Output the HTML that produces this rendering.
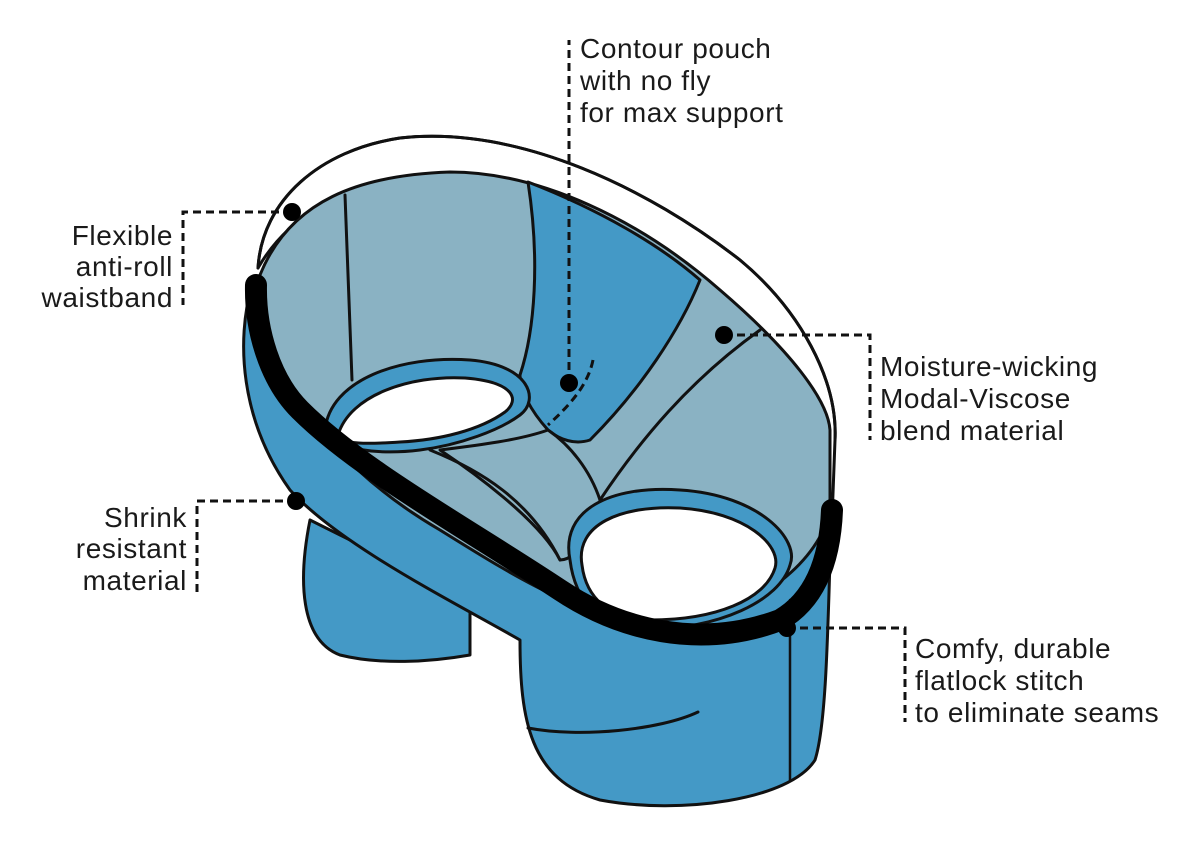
<!DOCTYPE html>
<html><head><meta charset="utf-8"><style>
html,body{margin:0;padding:0;background:#fff;}
svg{display:block;}
text{font-family:"Liberation Sans",sans-serif;font-size:28px;letter-spacing:0.6px;fill:#1a1a1a;}
</style></head><body>
<svg width="1200" height="848" viewBox="0 0 1200 848" xmlns="http://www.w3.org/2000/svg">
<g stroke="#111" stroke-width="3" stroke-linejoin="round" stroke-linecap="round">
<path d="M310 520 C298 580 300 640 340 655 C380 665 430 662 470 655 L470 600 Z" fill="#4499c6"/>
<path d="M252 285 C236 340 240 420 290 490 C340 545 450 600 520 640 C520 720 530 780 600 800 C680 815 790 800 815 760 C828 720 828 600 832 500 L832 430 Z" fill="#4499c6"/>
<path d="M528 728 C580 738 660 730 698 712" fill="none"/>
<path d="M790 600 L790 780" fill="none" stroke-width="2.5"/>
<path d="M258 268 C262 200 320 150 400 138 C520 125 650 190 740 260 C800 310 838 380 835 440 L832 520 C780 400 700 300 560 210 C470 170 320 160 258 268 Z" fill="#fff"/>
<path d="M260 275 C290 200 360 175 450 172 C540 172 640 220 720 290 C790 350 828 400 830 430 L830 510 C820 560 760 610 680 625 C600 630 520 580 440 530 C380 495 330 450 300 400 C275 360 258 320 260 275 Z" fill="#8ab2c3"/>
<path d="M528 182 C600 210 660 245 700 280 C680 330 640 390 590 440 C575 445 560 440 548 430 C530 410 520 390 520 375 C535 330 540 260 528 182 Z" fill="#4499c6"/>
<path d="M345 195 C348 280 350 330 352 380" fill="none"/>
<path d="M325 430 C330 380 400 355 470 360 C530 365 540 400 520 415 C500 430 460 445 420 450 C380 455 330 450 325 430 Z" fill="#4499c6"/>
<path d="M338 435 C350 395 410 375 465 378 C515 382 520 400 505 412 C480 430 440 440 400 442 C370 444 340 445 338 435 Z" fill="#fff"/>
<path d="M548 430 C520 440 480 445 440 450 C470 470 540 520 560 560 C580 560 600 520 600 500 C590 470 570 445 548 430 Z" fill="#8ab2c3"/>
<path d="M430 450 C480 470 530 500 560 560" fill="none"/>
<path d="M570 560 C560 510 610 485 680 490 C760 495 800 540 790 565 C780 600 720 630 640 630 C600 630 575 600 570 560 Z" fill="#4499c6"/>
<path d="M582 565 C575 525 620 505 680 508 C745 512 782 545 775 568 C765 600 715 620 650 620 C610 620 586 598 582 565 Z" fill="#fff"/>
<path d="M600 500 C640 440 690 380 760 330" fill="none"/>
<path d="M256 285 C255 330 270 380 300 410 C360 470 470 530 560 590 C620 630 700 650 780 620 C815 600 830 560 832 510" fill="none" stroke="#000" stroke-width="22"/>
<path d="M258 268 C262 200 320 150 400 138 C520 125 650 190 740 260 C800 310 838 380 835 440" fill="none"/>
</g>
<path d="M593 360 C588 385 570 405 548 425" fill="none" stroke="#111" stroke-width="3" stroke-dasharray="8,5"/>
<g fill="none" stroke="#111" stroke-width="3" stroke-dasharray="8,5">
<path d="M292 212 L183 212 L183 305"/>
<path d="M569 383 L569 40"/>
<path d="M724 335 L870 335 L870 440"/>
<path d="M296 501 L197 501 L197 595"/>
<path d="M787 628 L905 628 L905 722"/>
</g>
<g fill="#000">
<circle cx="292" cy="212" r="9"/><circle cx="569" cy="383" r="9"/><circle cx="724" cy="335" r="9"/>
<circle cx="296" cy="501" r="9"/><circle cx="787" cy="628" r="9"/>
</g>
<text x="580" y="58">Contour pouch</text>
<text x="580" y="90">with no fly</text>
<text x="580" y="122">for max support</text>
<text x="173" y="245" text-anchor="end">Flexible</text>
<text x="173" y="276" text-anchor="end">anti-roll</text>
<text x="173" y="307" text-anchor="end">waistband</text>
<text x="880" y="376">Moisture-wicking</text>
<text x="880" y="408">Modal-Viscose</text>
<text x="880" y="440">blend material</text>
<text x="187" y="527" text-anchor="end">Shrink</text>
<text x="187" y="558" text-anchor="end">resistant</text>
<text x="187" y="590" text-anchor="end">material</text>
<text x="915" y="658">Comfy, durable</text>
<text x="915" y="690">flatlock stitch</text>
<text x="915" y="722">to eliminate seams</text>
</svg>
</body></html>
